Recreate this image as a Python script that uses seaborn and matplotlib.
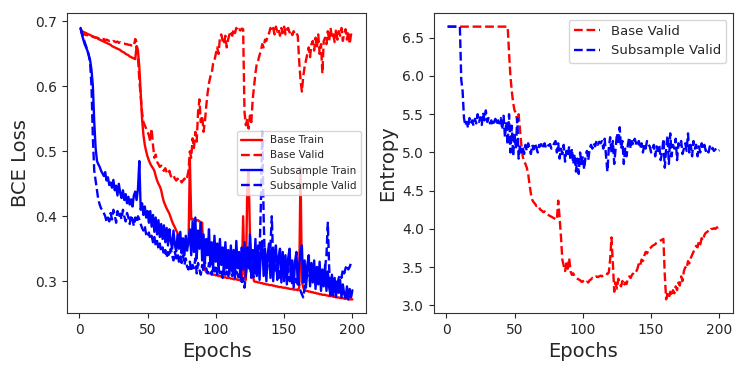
import numpy as np
import pandas as pd
import matplotlib
matplotlib.use("Agg")
import matplotlib.pyplot as plt
import seaborn as sns

epochs = list(range(1, 201))

base_train = [
    0.688, 0.685, 0.684, 0.683, 0.682, 0.681, 0.680, 0.679, 0.678, 0.677,
    0.676, 0.675, 0.675, 0.673, 0.672, 0.671, 0.670, 0.669, 0.668, 0.667,
    0.666, 0.665, 0.664, 0.662, 0.661, 0.660, 0.659, 0.658, 0.657, 0.656,
    0.654, 0.653, 0.652, 0.650, 0.649, 0.648, 0.646, 0.645, 0.644, 0.643,
    0.642, 0.662, 0.655, 0.630, 0.590, 0.550, 0.525, 0.510, 0.500, 0.492,
    0.486, 0.481, 0.477, 0.474, 0.470, 0.462, 0.455, 0.450, 0.446, 0.440,
    0.430, 0.422, 0.417, 0.412, 0.408, 0.404, 0.398, 0.392, 0.387, 0.383,
    0.378, 0.374, 0.370, 0.367, 0.364, 0.362, 0.360, 0.358, 0.356, 0.355,
    0.488, 0.395, 0.396, 0.394, 0.395, 0.393, 0.394, 0.392, 0.391, 0.390,
    0.335, 0.318, 0.314, 0.313, 0.312, 0.312, 0.311, 0.310, 0.310, 0.309,
    0.309, 0.308, 0.308, 0.307, 0.307, 0.306, 0.306, 0.305, 0.305, 0.305,
    0.304, 0.304, 0.303, 0.303, 0.303, 0.302, 0.302, 0.301, 0.301, 0.400,
    0.310, 0.302, 0.440, 0.470, 0.370, 0.335, 0.310, 0.300, 0.299, 0.299,
    0.298, 0.298, 0.297, 0.297, 0.296, 0.296, 0.295, 0.295, 0.294, 0.294,
    0.294, 0.293, 0.293, 0.292, 0.292, 0.291, 0.291, 0.291, 0.290, 0.290,
    0.290, 0.289, 0.289, 0.288, 0.288, 0.288, 0.287, 0.287, 0.287, 0.286,
    0.290, 0.475, 0.300, 0.290, 0.286, 0.285, 0.285, 0.284, 0.284, 0.283,
    0.283, 0.282, 0.282, 0.281, 0.281, 0.280, 0.280, 0.279, 0.279, 0.279,
    0.278, 0.278, 0.277, 0.277, 0.277, 0.276, 0.276, 0.275, 0.275, 0.275,
    0.274, 0.274, 0.274, 0.273, 0.273, 0.273, 0.272, 0.272, 0.272, 0.272,
]

base_valid = [
    0.684, 0.682, 0.681, 0.680, 0.679, 0.679, 0.678, 0.677, 0.677, 0.676,
    0.676, 0.675, 0.675, 0.674, 0.673, 0.675, 0.672, 0.673, 0.671, 0.672,
    0.671, 0.670, 0.671, 0.669, 0.670, 0.669, 0.668, 0.669, 0.667, 0.668,
    0.667, 0.666, 0.666, 0.665, 0.665, 0.664, 0.664, 0.663, 0.663, 0.662,
    0.673, 0.668, 0.645, 0.610, 0.585, 0.560, 0.545, 0.540, 0.535, 0.530,
    0.525, 0.515, 0.535, 0.510, 0.490, 0.495, 0.484, 0.480, 0.476, 0.478,
    0.472, 0.470, 0.474, 0.468, 0.465, 0.470, 0.462, 0.460, 0.463, 0.458,
    0.455, 0.458, 0.454, 0.456, 0.452, 0.455, 0.458, 0.455, 0.460, 0.470,
    0.500, 0.490, 0.520, 0.505, 0.530, 0.515, 0.560, 0.580, 0.545, 0.555,
    0.530, 0.545, 0.570, 0.590, 0.605, 0.615, 0.620, 0.635, 0.640, 0.650,
    0.660, 0.650, 0.675, 0.680, 0.670, 0.665, 0.678, 0.660, 0.672, 0.680,
    0.685, 0.678, 0.688, 0.682, 0.690, 0.685, 0.688, 0.686, 0.689, 0.688,
    0.560, 0.540, 0.550, 0.535, 0.555, 0.545, 0.580, 0.600, 0.620, 0.635,
    0.640, 0.648, 0.655, 0.665, 0.660, 0.672, 0.670, 0.678, 0.682, 0.690,
    0.685, 0.690, 0.680, 0.692, 0.684, 0.688, 0.678, 0.690, 0.682, 0.692,
    0.680, 0.688, 0.690, 0.683, 0.686, 0.679, 0.685, 0.680, 0.682, 0.678,
    0.640, 0.610, 0.592, 0.615, 0.630, 0.640, 0.650, 0.660, 0.645, 0.665,
    0.670, 0.655, 0.675, 0.660, 0.680, 0.650, 0.665, 0.620, 0.670, 0.675,
    0.665, 0.685, 0.670, 0.690, 0.675, 0.680, 0.668, 0.688, 0.672, 0.685,
    0.678, 0.690, 0.670, 0.682, 0.688, 0.672, 0.685, 0.665, 0.680, 0.675,
]

sub_train = [
    0.690, 0.680, 0.672, 0.665, 0.660, 0.655, 0.648, 0.640, 0.625, 0.600,
    0.545, 0.505, 0.485, 0.480, 0.476, 0.470, 0.466, 0.462, 0.468, 0.455,
    0.460, 0.448, 0.452, 0.444, 0.456, 0.440, 0.447, 0.432, 0.450, 0.436,
    0.428, 0.440, 0.425, 0.434, 0.420, 0.430, 0.418, 0.426, 0.415, 0.432,
    0.438, 0.425, 0.442, 0.485, 0.410, 0.420, 0.402, 0.415, 0.398, 0.408,
    0.390, 0.408, 0.384, 0.402, 0.376, 0.398, 0.372, 0.394, 0.368, 0.388,
    0.365, 0.386, 0.360, 0.382, 0.355, 0.380, 0.362, 0.350, 0.378, 0.356,
    0.346, 0.372, 0.350, 0.376, 0.343, 0.366, 0.340, 0.370, 0.347, 0.364,
    0.380, 0.340, 0.392, 0.345, 0.398, 0.335, 0.378, 0.350, 0.390, 0.332,
    0.372, 0.330, 0.365, 0.340, 0.380, 0.325, 0.360, 0.318, 0.370, 0.330,
    0.358, 0.315, 0.365, 0.325, 0.352, 0.310, 0.360, 0.320, 0.348, 0.312,
    0.355, 0.315, 0.348, 0.308, 0.362, 0.320, 0.345, 0.305, 0.352, 0.318,
    0.360, 0.312, 0.352, 0.320, 0.372, 0.305, 0.348, 0.315, 0.365, 0.308,
    0.355, 0.302, 0.345, 0.362, 0.308, 0.350, 0.300, 0.342, 0.358, 0.305,
    0.350, 0.300, 0.340, 0.355, 0.302, 0.338, 0.350, 0.298, 0.345, 0.305,
    0.340, 0.295, 0.336, 0.350, 0.300, 0.332, 0.290, 0.330, 0.345, 0.295,
    0.325, 0.345, 0.355, 0.298, 0.332, 0.290, 0.325, 0.340, 0.292, 0.328,
    0.298, 0.332, 0.288, 0.322, 0.295, 0.330, 0.285, 0.318, 0.292, 0.325,
    0.285, 0.315, 0.290, 0.278, 0.310, 0.282, 0.305, 0.276, 0.300, 0.282,
    0.302, 0.275, 0.295, 0.280, 0.274, 0.292, 0.272, 0.288, 0.275, 0.286,
]

sub_valid = [
    0.690, 0.682, 0.675, 0.668, 0.662, 0.655, 0.648, 0.635, 0.600, 0.520,
    0.470, 0.455, 0.440, 0.425, 0.418, 0.412, 0.410, 0.405, 0.400, 0.392,
    0.398, 0.392, 0.405, 0.395, 0.410, 0.402, 0.390, 0.408, 0.398, 0.404,
    0.395, 0.410, 0.400, 0.392, 0.405, 0.398, 0.388, 0.402, 0.395, 0.385,
    0.398, 0.390, 0.400, 0.395, 0.388, 0.382, 0.378, 0.385, 0.372, 0.368,
    0.375, 0.365, 0.370, 0.360, 0.368, 0.355, 0.362, 0.350, 0.358, 0.345,
    0.352, 0.340, 0.348, 0.336, 0.345, 0.338, 0.350, 0.340, 0.332, 0.345,
    0.335, 0.342, 0.330, 0.338, 0.328, 0.340, 0.325, 0.335, 0.322, 0.318,
    0.330, 0.315, 0.325, 0.320, 0.335, 0.312, 0.328, 0.318, 0.310, 0.325,
    0.315, 0.330, 0.320, 0.312, 0.328, 0.318, 0.310, 0.322, 0.315, 0.325,
    0.310, 0.320, 0.312, 0.318, 0.305, 0.322, 0.310, 0.315, 0.305, 0.318,
    0.312, 0.308, 0.320, 0.305, 0.315, 0.310, 0.302, 0.318, 0.295, 0.305,
    0.290, 0.310, 0.330, 0.345, 0.320, 0.310, 0.315, 0.305, 0.320, 0.310,
    0.325, 0.340, 0.420, 0.530, 0.400, 0.320, 0.310, 0.325, 0.340, 0.355,
    0.400, 0.330, 0.315, 0.325, 0.310, 0.320, 0.305, 0.318, 0.310, 0.300,
    0.315, 0.305, 0.320, 0.300, 0.310, 0.295, 0.312, 0.305, 0.298, 0.308,
    0.295, 0.285, 0.280, 0.275, 0.290, 0.300, 0.310, 0.305, 0.300, 0.312,
    0.305, 0.315, 0.300, 0.310, 0.298, 0.312, 0.305, 0.300, 0.310, 0.320,
    0.340, 0.390, 0.320, 0.285, 0.280, 0.278, 0.290, 0.300, 0.295, 0.305,
    0.310, 0.305, 0.318, 0.312, 0.320, 0.325, 0.318, 0.322, 0.328, 0.325,
]

ent_base_valid = [
    6.645, 6.645, 6.645, 6.645, 6.645, 6.645, 6.645, 6.645, 6.645, 6.645,
    6.645, 6.645, 6.645, 6.645, 6.645, 6.645, 6.645, 6.645, 6.645, 6.645,
    6.645, 6.645, 6.645, 6.645, 6.645, 6.645, 6.645, 6.645, 6.645, 6.645,
    6.645, 6.645, 6.645, 6.645, 6.645, 6.645, 6.645, 6.645, 6.645, 6.645,
    6.645, 6.645, 6.645, 6.645, 6.645, 6.300, 6.000, 5.800, 5.650, 5.550,
    5.520, 5.400, 5.500, 5.300, 5.100, 4.950, 4.880, 4.850, 4.800, 4.720,
    4.580, 4.460, 4.380, 4.350, 4.330, 4.300, 4.310, 4.280, 4.250, 4.240,
    4.220, 4.230, 4.200, 4.190, 4.180, 4.170, 4.160, 4.150, 4.140, 4.130,
    4.120, 4.370, 4.150, 3.900, 3.600, 3.520, 3.450, 3.550, 3.480, 3.620,
    3.450, 3.400, 3.420, 3.380, 3.360, 3.350, 3.340, 3.330, 3.310, 3.320,
    3.300, 3.290, 3.310, 3.300, 3.330, 3.340, 3.360, 3.350, 3.370, 3.380,
    3.370, 3.380, 3.390, 3.380, 3.400, 3.410, 3.420, 3.410, 3.430, 3.600,
    3.890, 3.550, 3.180, 3.300, 3.220, 3.350, 3.280, 3.250, 3.320, 3.260,
    3.300, 3.280, 3.350, 3.380, 3.360, 3.400, 3.420, 3.450, 3.440, 3.480,
    3.550, 3.520, 3.600, 3.580, 3.650, 3.700, 3.680, 3.720, 3.750, 3.760,
    3.780, 3.790, 3.800, 3.820, 3.830, 3.840, 3.850, 3.860, 3.870, 3.400,
    3.080, 3.150, 3.100, 3.180, 3.120, 3.200, 3.160, 3.250, 3.200, 3.300,
    3.260, 3.380, 3.320, 3.450, 3.500, 3.480, 3.580, 3.550, 3.620, 3.660,
    3.700, 3.740, 3.780, 3.760, 3.840, 3.800, 3.880, 3.850, 3.920, 3.950,
    3.960, 3.980, 3.970, 4.000, 4.000, 4.010, 4.000, 4.020, 4.020, 4.030,
]

ent_sub_valid = [
    6.645, 6.645, 6.645, 6.645, 6.645, 6.645, 6.645, 6.645, 6.645, 6.645,
    5.950, 5.800, 5.450, 5.350, 5.400, 5.320, 5.450, 5.380, 5.420, 5.350,
    5.440, 5.380, 5.500, 5.400, 5.460, 5.360, 5.520, 5.420, 5.550, 5.400,
    5.450, 5.380, 5.420, 5.350, 5.400, 5.440, 5.360, 5.420, 5.380, 5.450,
    5.300, 5.480, 5.200, 5.400, 5.100, 5.500, 5.000, 5.350, 4.950, 5.250,
    5.050, 5.450, 4.920, 5.100, 5.000, 5.080, 4.980, 5.100, 5.020, 5.120,
    5.050, 4.980, 5.100, 5.040, 5.120, 5.060, 5.000, 5.100, 5.080, 5.130,
    5.080, 5.120, 5.060, 5.100, 5.090, 5.110, 5.050, 5.080, 5.120, 5.150,
    5.000, 5.120, 4.920, 5.050, 4.980, 5.100, 4.880, 5.020, 4.950, 5.080,
    4.900, 5.050, 4.850, 4.980, 4.750, 4.920, 4.720, 5.000, 4.850, 4.950,
    4.780, 4.950, 5.020, 4.900, 5.050, 5.100, 5.050, 5.120, 5.080, 5.150,
    5.100, 5.140, 5.120, 5.150, 5.050, 5.180, 4.950, 4.750, 5.050, 5.200,
    5.000, 5.150, 4.850, 5.050, 5.250, 5.100, 5.330, 5.050, 5.150, 4.850,
    5.050, 4.950, 5.100, 5.200, 5.050, 5.150, 5.100, 5.180, 5.120, 5.080,
    5.150, 5.050, 5.120, 5.000, 5.100, 5.050, 5.150, 5.100, 5.080, 5.000,
    5.050, 5.100, 4.950, 5.080, 5.020, 5.100, 4.900, 5.000, 5.180, 4.800,
    5.050, 5.220, 4.850, 5.250, 4.950, 5.100, 5.050, 5.180, 4.900, 5.120,
    5.080, 5.150, 4.980, 5.050, 5.120, 5.020, 5.250, 5.000, 5.100, 4.950,
    5.150, 5.050, 5.100, 4.950, 5.080, 5.000, 5.120, 5.050, 5.100, 5.020,
    5.050, 5.000, 5.080, 5.030, 5.060, 5.020, 5.040, 5.050, 5.020, 5.030,
]

sns.set_style("ticks")
plt.rcParams['font.family'] = ['DejaVu Sans']

fig = plt.figure(figsize=(7.47, 3.74), dpi=100)
ax1 = fig.add_axes([67/747, 61/374, 299/747, 300/374])
ax2 = fig.add_axes([434/747, 61/374, 299/747, 300/374])

lw = 1.7
sns.lineplot(x=epochs, y=base_train, ax=ax1, color='red', linewidth=lw, label='Base Train')
sns.lineplot(x=epochs, y=base_valid, ax=ax1, color='red', linewidth=lw, linestyle='--', label='Base Valid')
sns.lineplot(x=epochs, y=sub_train, ax=ax1, color='blue', linewidth=lw, label='Subsample Train')
sns.lineplot(x=epochs, y=sub_valid, ax=ax1, color='blue', linewidth=lw, linestyle='--', label='Subsample Valid')
ax1.set_xlabel('Epochs', fontsize=14)
ax1.set_ylabel('BCE Loss', fontsize=14)
ax1.tick_params(labelsize=10)
ax1.legend(loc='center right', fontsize=7.5)

sns.lineplot(x=epochs, y=ent_base_valid, ax=ax2, color='red', linewidth=lw, linestyle='--', label='Base Valid')
sns.lineplot(x=epochs, y=ent_sub_valid, ax=ax2, color='blue', linewidth=lw, linestyle='--', label='Subsample Valid')
ax2.set_xlabel('Epochs', fontsize=14)
ax2.set_ylabel('Entropy', fontsize=14)
ax2.tick_params(labelsize=10)
ax2.legend(loc='upper right', fontsize=9.5)

for ax in (ax1, ax2):
    ax.set_xticks([0, 50, 100, 150, 200])
    for s in ax.spines.values():
        s.set_color('#333333')

fig.savefig('out.png', dpi=100)
